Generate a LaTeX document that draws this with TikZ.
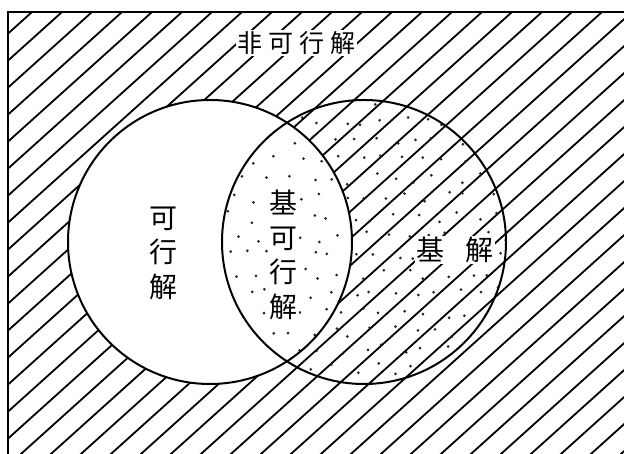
\documentclass[tikz,border=0pt]{standalone}
\usepackage{fontspec}
\newfontfamily\cjk{Noto Sans CJK SC}
\begin{document}
\begin{tikzpicture}[x=1pt,y=1pt,
  hatch/.style={line width=1.8pt},
  rim/.style={line width=2pt},
  dot/.style={fill=black!85},
  lab/.style={font=\cjk\fontsize{28}{34.5}\selectfont, align=center, fill=white, inner sep=1.5pt},
  toplab/.style={font=\cjk\fontsize{25}{28}\selectfont, fill=white, inner sep=1.5pt}]
\useasboundingbox (0,0) rectangle (624,454);
\coordinate (LC) at (210,212);
\coordinate (RC) at (364,212);
% hatching: inside frame, outside the feasible circle
\begin{scope}[even odd rule]
  \clip (8,-10) rectangle (640,442) (210,212) circle (142);
  \foreach \k in {-20,...,38} {
    \draw[hatch] ({32+30*\k-520},{442-468}) -- ({32+30*\k+30},{442+27});
  }
\end{scope}
% dots: inside the basic-solution circle
\begin{scope}
  \clip (364,212) circle (142);
  \foreach \i in {0,...,14} {
    \foreach \j in {0,...,15} {
      \pgfmathsetmacro\hx{frac(abs(sin(\i*127.1+\j*311.7))*997)}
      \pgfmathsetmacro\hy{frac(abs(sin(\i*269.5+\j*183.3))*991)}
      \pgfmathsetmacro\dx{216+21*\i+10.5*mod(\j,2)+12*\hx-6}
      \pgfmathsetmacro\dy{66+19*\j+12*\hy-6}
      \fill[dot] (\dx,\dy) circle (1.5pt);
    }
  }
\end{scope}
% labels
\node[toplab] (infeas) at (296,411) {非\kern6pt 可\kern6pt 行\kern6pt 解};
\node[lab] (feas) at (163,201) {可\\行\\解};
\node[lab] (bfs) at (283,199) {基\\可\\行\\解};
\node[lab] (bs) at (455,204) {基\kern21pt 解};
% circles and frame
\draw[rim] (LC) circle (142);
\draw[rim] (RC) circle (142);
\draw[rim] (8,-10) -- (8,442) -- (640,442);
\end{tikzpicture}
\end{document}
